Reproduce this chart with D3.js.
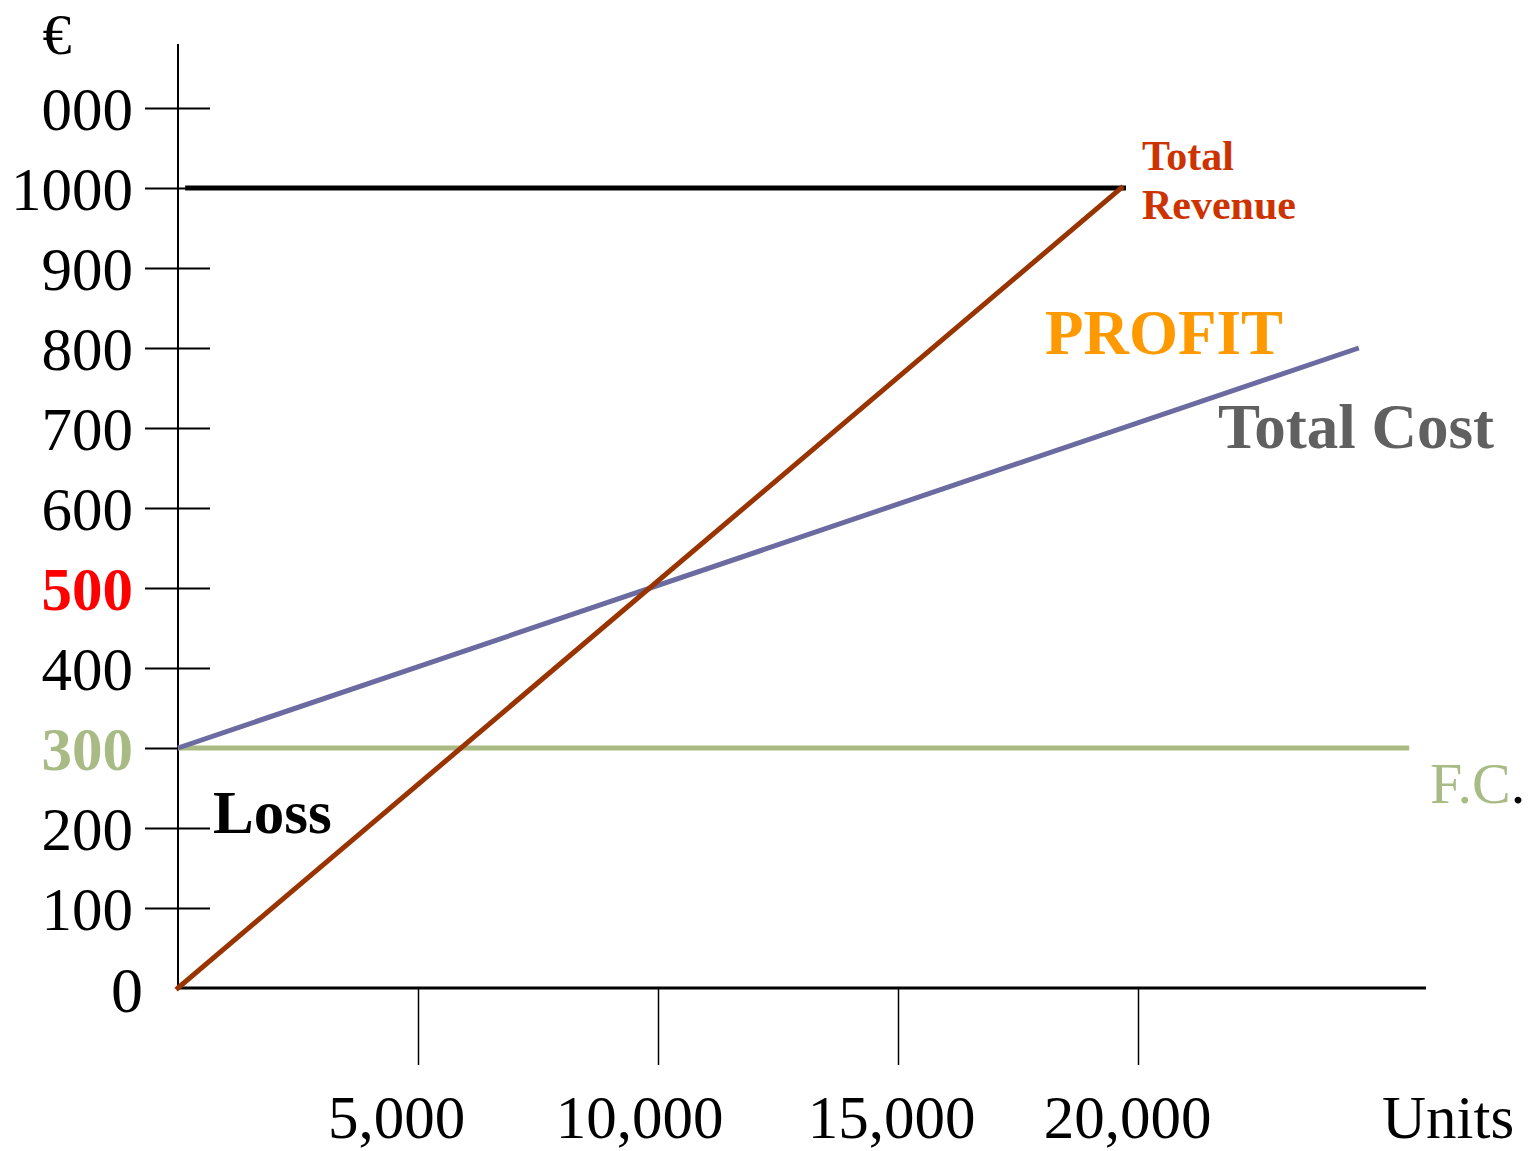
<!DOCTYPE html>
<html>
<head>
<meta charset="utf-8">
<script src="https://cdn.jsdelivr.net/npm/d3@7"></script>
<style>
  html, body { margin: 0; padding: 0; background: #fff; }
  svg { display: block; font-family: "Liberation Serif", "Times New Roman", serif; }
</style>
</head>
<body>
<svg id="chart" width="1537" height="1151"></svg>
<script>
// ---- data ----
const yTickValues = [100, 200, 300, 400, 500, 600, 700, 800, 900, 1000, 1100];
const yTickLabels = ["100", "200", "300", "400", "500", "600", "700", "800", "900", "1000", "000"];
const yZeroLabel = "0";
const xTickValues = [5000, 10000, 15000, 20000];
const xTickLabels = ["5,000", "10,000", "15,000", "20,000"];

const revenueUnits = [0, 19650];
const revenueValues = [0, 1000];
const costUnits = [0, 24600];
const costValues = [300, 800];
const fixedCostUnits = [0, 25650];
const fixedCostValues = [300, 300];
const capUnits = [150, 19750];
const capValues = [1000, 1000];

// ---- layout ----
const svg = d3.select("#chart");
const x = d3.scaleLinear().domain([0, 26000]).range([178, 1426]);
const y = d3.scaleLinear().domain([0, 1180]).range([988, 44]);
const xLabelShift = [-22, -19, -7, -11];

const colors = {
  revenue: "#993300",
  cost: "#6b6ba1",
  fixed: "#a9bb85",
  revLabel: "#cc3300",
  profit: "#ff9900",
  costLabel: "#606060",
  red: "#ff0000"
};

const line = d3.line().x(d => x(d[0])).y(d => y(d[1]));
const pairs = (u, v) => u.map((d, i) => [d, v[i]]);

// y axis: ticks crossing the vertical axis
const yAxis = d3.axisLeft(y)
  .tickValues(yTickValues)
  .tickSize(65)
  .tickPadding(12)
  .tickFormat((d, i) => yTickLabels[i]);
const gy = svg.append("g").attr("transform", `translate(210,0)`).call(yAxis);
gy.select(".domain").remove();
gy.selectAll(".tick line").attr("stroke", "#000").attr("stroke-width", 2);
gy.selectAll(".tick text")
  .attr("font-family", "Liberation Serif, serif")
  .attr("font-size", 61)
  .attr("fill", "#000")
  .attr("dy", "0.35em")
  .attr("x", -77);
gy.selectAll(".tick text").filter(d => d === 500)
  .attr("fill", colors.red).attr("font-weight", "bold");
gy.selectAll(".tick text").filter(d => d === 300)
  .attr("fill", colors.fixed).attr("font-weight", "bold");

// zero label sits by itself at the origin, without a tick
svg.append("text")
  .attr("x", x(0) - 35).attr("y", y(0) + 24)
  .attr("text-anchor", "end")
  .attr("font-size", 64)
  .text(yZeroLabel);

// x axis: ticks hanging below the axis
const xAxis = d3.axisBottom(x)
  .tickValues(xTickValues)
  .tickSize(77)
  .tickFormat((d, i) => xTickLabels[i]);
const gx = svg.append("g").attr("transform", `translate(0,${y(0)})`).call(xAxis);
gx.select(".domain").remove();
gx.selectAll(".tick line").attr("stroke", "#000").attr("stroke-width", 1.5);
gx.selectAll(".tick text")
  .attr("font-family", "Liberation Serif, serif")
  .attr("font-size", 61)
  .attr("fill", "#000")
  .attr("dy", 0)
  .attr("y", 150)
  .attr("x", (d, i) => xLabelShift[i]);

// axis lines
svg.append("line")
  .attr("x1", x(0)).attr("x2", x(0))
  .attr("y1", y(0)).attr("y2", y(1180))
  .attr("stroke", "#000").attr("stroke-width", 2);
svg.append("line")
  .attr("x1", x(0)).attr("x2", x(26000))
  .attr("y1", y(0)).attr("y2", y(0))
  .attr("stroke", "#000").attr("stroke-width", 3);

// series
svg.append("path").datum(pairs(fixedCostUnits, fixedCostValues))
  .attr("d", line).attr("fill", "none")
  .attr("stroke", colors.fixed).attr("stroke-width", 5);
svg.append("path").datum(pairs(capUnits, capValues))
  .attr("d", line).attr("fill", "none")
  .attr("stroke", "#000").attr("stroke-width", 5);
svg.append("path").datum(pairs(costUnits, costValues))
  .attr("d", line).attr("fill", "none")
  .attr("stroke", colors.cost).attr("stroke-width", 5);
svg.append("path").datum(pairs(revenueUnits, revenueValues))
  .attr("d", line).attr("fill", "none")
  .attr("stroke", colors.revenue).attr("stroke-width", 5)
  .attr("stroke-linecap", "square");

// annotations
function label(txt, px, py, opts) {
  return svg.append("text")
    .attr("x", px).attr("y", py)
    .attr("font-size", opts.size || 60)
    .attr("font-weight", opts.bold ? "bold" : "normal")
    .attr("fill", opts.fill || "#000")
    .attr("text-anchor", opts.anchor || "start")
    .text(txt);
}
label("€", 57, 54, { anchor: "middle", size: 58 });
label("Total", 1142, 170, { size: 42, bold: true, fill: colors.revLabel });
label("Revenue", 1142, 219, { size: 42, bold: true, fill: colors.revLabel });
label("PROFIT", 1045, 354, { size: 63, bold: true, fill: colors.profit });
label("Total Cost", 1218, 448, { size: 63, bold: true, fill: colors.costLabel });
label("Loss", 213, 833, { size: 61, bold: true });
const fc = svg.append("text").attr("x", 1430).attr("y", 803).attr("font-size", 58);
fc.append("tspan").attr("fill", colors.fixed).text("F.C");
fc.append("tspan").attr("fill", "#000").text(".");
label("Units", 1382, 1138, { size: 61 });
</script>
</body>
</html>
